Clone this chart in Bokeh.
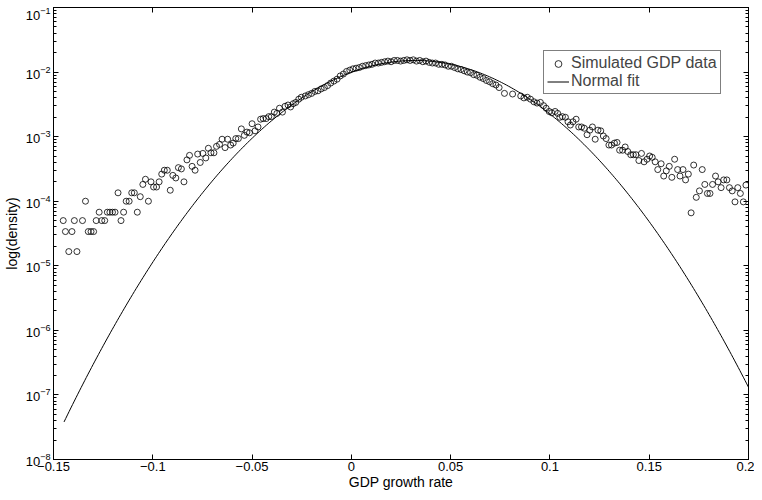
import numpy as np
from bokeh.plotting import figure
from bokeh.layouts import column
from bokeh.models import LinearAxis, LogAxis, FixedTicker, Legend, LegendItem, LogTicker, Range1d, CustomJSTickFormatter, Spacer
from bokeh.embed import file_html
from bokeh.resources import INLINE

# simulated GDP data: growth rate and log10(density)
left_x = [-0.1451,-0.1440,-0.1423,-0.1407,-0.1395,-0.1382,-0.1354,-0.1339,-0.1325,-0.1311,-0.1298,-0.1285,-0.1270,-0.1257,-0.1242,-0.1229,-0.1216,-0.1203,-0.1190,-0.1175,-0.1160,-0.1147,-0.1134,-0.1119,-0.1106,-0.1093,-0.1078,-0.1063,-0.1050,-0.1037,-0.1022,-0.1009,-0.0996,-0.0981,-0.0968,-0.0955,-0.0942,-0.0927,-0.0912,-0.0899,-0.0884,-0.0871,-0.0856,-0.0843,-0.0828,-0.0815,-0.0802,-0.0787,-0.0774,-0.0761,-0.0748,-0.0733,-0.0720,-0.0707,-0.0692,-0.0679,-0.0664,-0.0651,-0.0636,-0.0623,-0.0608,-0.0595,-0.0582,-0.0569,-0.0554,-0.0539,-0.0526,-0.0513,-0.0500,-0.0485,-0.0470,-0.0457,-0.0444,-0.0429,-0.0416,-0.0403,-0.0388,-0.0375,-0.0362,-0.0347,-0.0334,-0.0319,-0.0306,-0.0293,-0.0280,-0.0265,-0.0252]
left_logd = [-4.30,-4.47,-4.78,-4.47,-4.30,-4.78,-4.30,-4.00,-4.47,-4.47,-4.47,-4.30,-4.17,-4.30,-4.30,-4.17,-4.17,-4.17,-4.17,-3.87,-4.30,-4.17,-4.00,-4.00,-3.87,-3.87,-4.17,-3.93,-3.74,-3.66,-4.00,-3.70,-3.78,-3.78,-3.70,-3.58,-3.52,-3.52,-3.83,-3.60,-3.64,-3.48,-3.50,-3.70,-3.36,-3.29,-3.46,-3.52,-3.27,-3.40,-3.26,-3.33,-3.18,-3.25,-3.25,-3.15,-3.12,-3.04,-3.17,-3.04,-3.13,-3.10,-3.03,-3.03,-2.88,-2.98,-2.93,-2.94,-2.80,-2.91,-2.85,-2.73,-2.72,-2.72,-2.69,-2.69,-2.62,-2.64,-2.56,-2.62,-2.53,-2.51,-2.54,-2.49,-2.47,-2.42,-2.39]
core_x = [-0.0232,-0.0216,-0.0200,-0.0184,-0.0168,-0.0152,-0.0136,-0.0120,-0.0104,-0.0088,-0.0072,-0.0056,-0.0040,-0.0024,-0.0008,0.0008,0.0024,0.0040,0.0056,0.0072,0.0088,0.0104,0.0120,0.0136,0.0152,0.0168,0.0184,0.0200,0.0216,0.0232,0.0248,0.0264,0.0280,0.0296,0.0312,0.0328,0.0344,0.0360,0.0376,0.0392,0.0408,0.0424,0.0440,0.0456,0.0472,0.0488,0.0504,0.0520,0.0536,0.0552,0.0568,0.0584,0.0600,0.0616,0.0632,0.0648,0.0664,0.0680,0.0696,0.0712,0.0728,0.0744]
core_logd = [-2.37,-2.35,-2.33,-2.30,-2.29,-2.26,-2.24,-2.21,-2.17,-2.14,-2.11,-2.06,-2.03,-1.99,-1.97,-1.95,-1.94,-1.93,-1.91,-1.90,-1.89,-1.88,-1.86,-1.86,-1.85,-1.84,-1.83,-1.84,-1.82,-1.82,-1.83,-1.82,-1.81,-1.82,-1.81,-1.83,-1.82,-1.84,-1.83,-1.85,-1.86,-1.86,-1.88,-1.88,-1.89,-1.91,-1.91,-1.93,-1.95,-1.96,-1.98,-2.00,-2.01,-2.04,-2.05,-2.08,-2.10,-2.13,-2.15,-2.18,-2.20,-2.24]
right_x = [0.0771,0.0812,0.0853,0.0869,0.0886,0.0902,0.0919,0.0935,0.0952,0.0968,0.0981,0.0996,0.1009,0.1026,0.1039,0.1050,0.1063,0.1078,0.1091,0.1103,0.1116,0.1132,0.1145,0.1159,0.1173,0.1187,0.1201,0.1214,0.1228,0.1242,0.1256,0.1269,0.1283,0.1297,0.1310,0.1325,0.1338,0.1351,0.1366,0.1379,0.1392,0.1407,0.1420,0.1433,0.1448,0.1461,0.1474,0.1489,0.1502,0.1515,0.1530,0.1543,0.1560,0.1573,0.1586,0.1601,0.1614,0.1628,0.1643,0.1655,0.1670,0.1683,0.1697,0.1711,0.1724,0.1737,0.1753,0.1767,0.1780,0.1793,0.1806,0.1819,0.1834,0.1847,0.1862,0.1875,0.1891,0.1904,0.1918,0.1932,0.1946,0.1959,0.1974,0.1987]
right_logd = [-2.33,-2.34,-2.37,-2.40,-2.39,-2.42,-2.46,-2.48,-2.47,-2.52,-2.56,-2.61,-2.63,-2.61,-2.64,-2.70,-2.69,-2.70,-2.77,-2.82,-2.77,-2.73,-2.85,-2.85,-2.87,-2.97,-2.90,-2.85,-3.04,-2.90,-2.91,-2.99,-3.03,-3.13,-3.13,-3.10,-3.09,-3.21,-3.21,-3.16,-3.23,-3.28,-3.28,-3.28,-3.37,-3.26,-3.39,-3.35,-3.30,-3.32,-3.39,-3.51,-3.42,-3.61,-3.53,-3.46,-3.63,-3.35,-3.51,-3.61,-3.51,-3.67,-3.58,-4.18,-3.44,-3.94,-3.84,-3.51,-3.74,-3.88,-3.88,-3.74,-3.61,-3.70,-3.79,-3.67,-3.67,-3.79,-3.84,-4.01,-3.79,-3.88,-4.01,-3.75]

# normal fit parameters (mean, std, peak log10 density) and x extent
fit_mu = 0.032
fit_sigma = 0.0348
fit_peak_logd = -1.82
fit_x_range = [-0.1447, 0.2]

x_ticks = [-0.15, -0.1, -0.05, 0, 0.05, 0.1, 0.15, 0.2]
x_tick_labels = {-0.15: "\u22120.15", -0.1: "\u22120.1", -0.05: "\u22120.05", 0: "0", 0.05: "0.05", 0.1: "0.1", 0.15: "0.15", 0.2: "0.2"}

FONT = "Liberation Sans"

data_x = np.array(left_x + core_x + right_x)
data_y = 10 ** np.array(left_logd + core_logd + right_logd)

fx = np.linspace(fit_x_range[0], fit_x_range[1], 400)
fy = 10 ** (fit_peak_logd - np.log10(np.e) * (fx - fit_mu) ** 2 / (2 * fit_sigma ** 2))

p = figure(width=754, height=485, y_axis_type="log", output_backend="svg", toolbar_location=None,
           x_range=Range1d(-0.15, 0.2), y_range=Range1d(1e-8, 1e-1),
           min_border_left=38, min_border_right=6, min_border_top=0, min_border_bottom=20)
p.grid.visible = False
p.outline_line_color = "black"
p.outline_line_width = 1
p.background_fill_color = "white"
p.border_fill_color = "white"

c = p.scatter(data_x, data_y, marker="circle", size=6, fill_color=None, line_color="black", line_width=0.8)
l = p.line(fx, fy, line_color="black", line_width=1)

def style(ax):
    ax.major_tick_in = 5
    ax.major_tick_out = 0
    ax.minor_tick_in = 3
    ax.minor_tick_out = 0
    ax.axis_line_color = "black"
    ax.major_label_text_font = FONT
    ax.major_label_text_font_size = "13px"
    ax.major_label_text_color = "black"
    ax.axis_label_text_font = FONT
    ax.axis_label_text_font_size = "14px"
    ax.axis_label_text_font_style = "normal"
    ax.axis_label_text_color = "black"

xa = p.xaxis[0]
xa.ticker = FixedTicker(ticks=x_ticks)
xa.major_label_overrides = x_tick_labels
xa.axis_label = "GDP growth rate"
xa.axis_label_standoff = 0
xa.major_label_standoff = 2
style(xa)
ya = p.yaxis[0]
ya.ticker = LogTicker(num_minor_ticks=10)
ya.axis_label = "log(density)"
ya.axis_label_standoff = 3
ya.major_label_standoff = 3
style(ya)

top = LinearAxis(ticker=FixedTicker(ticks=x_ticks), formatter=CustomJSTickFormatter(code="return ''"))
style(top)
top.major_label_standoff = 0
p.add_layout(top, "above")
right = LogAxis(ticker=LogTicker(num_minor_ticks=10), formatter=CustomJSTickFormatter(code="return ''"))
style(right)
right.major_label_standoff = 0
p.add_layout(right, "right")

legend = Legend(items=[LegendItem(label="Simulated GDP data", renderers=[c]),
                       LegendItem(label="Normal fit", renderers=[l])],
                location=(490, 365), label_text_font=FONT, label_text_font_size="16px",
                border_line_color="black", border_line_width=1, padding=3, spacing=0,
                label_height=17, glyph_height=17, glyph_width=22, label_standoff=2, margin=0)
p.add_layout(legend, "center")

page = column(Spacer(height=7, width=754), p, spacing=0)
open("out.html", "w").write(file_html(page, INLINE))
